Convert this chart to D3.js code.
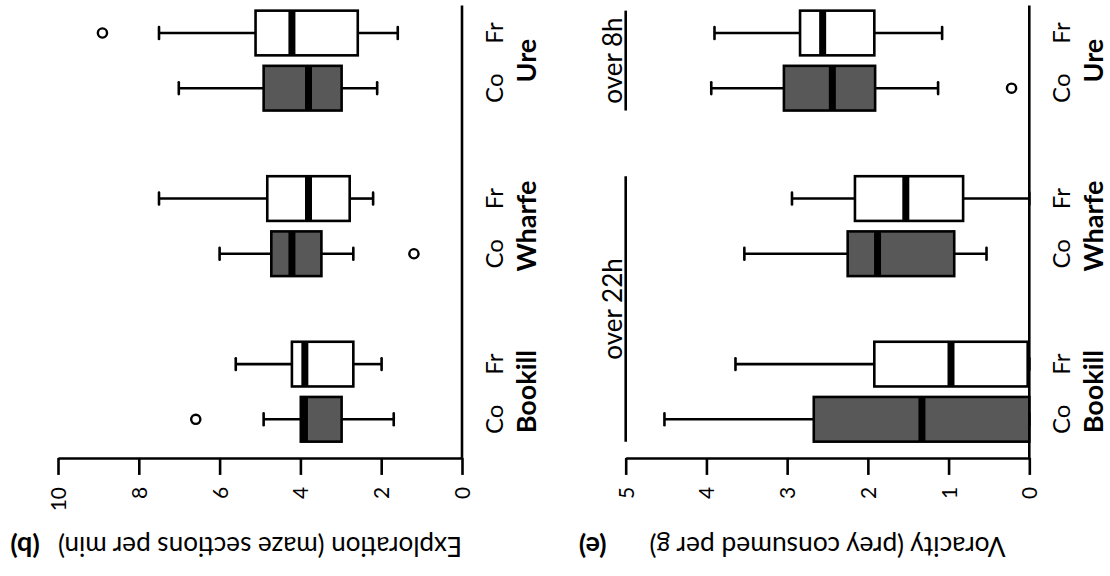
<!DOCTYPE html>
<html><head><meta charset="utf-8">
<script src="https://cdn.jsdelivr.net/npm/d3@7"></script>
<style>html,body{margin:0;padding:0;background:#fff}</style>
</head><body>
<script>
// ---------- data (five-number summaries: [lowWhisker, Q1, median, Q3, highWhisker]) ----------
const groups = ["Bookill", "Wharfe", "Ure"];
const treatments = ["Co", "Fr"];

const exploreCo = [[1.69, 2.98, 3.90, 3.99, 4.91], [2.69, 3.48, 4.21, 4.72, 6.00], [2.10, 2.98, 3.80, 4.91, 7.01]];
const exploreFr = [[1.99, 2.69, 3.89, 4.21, 5.60], [2.20, 2.78, 3.80, 4.82, 7.50], [1.59, 2.58, 4.21, 5.11, 7.50]];
const exploreOutCo = [[6.59], [1.19], []];
const exploreOutFr = [[], [], [8.90]];
const exploreTicks = [0, 2, 4, 6, 8, 10];

const voracityCo = [[0, 0, 1.33, 2.67, 4.52], [0.53, 0.93, 1.88, 2.25, 3.53], [1.13, 1.91, 2.44, 3.04, 3.94]];
const voracityFr = [[0, 0.02, 0.97, 1.92, 3.64], [0, 0.82, 1.53, 2.16, 2.94], [1.08, 1.92, 2.56, 2.84, 3.90]];
const voracityOutCo = [[], [], [0.22]];
const voracityOutFr = [[], [], []];
const voracityTicks = [0, 1, 2, 3, 4, 5];

const durationLabels = ["over 22h", "over 8h"];
const durationGroups = [[0, 1], [2, 2]]; // group index spans

// ---------- layout ----------
const W = 1110, H = 576;
const FONT = "Lato, 'Open Sans', sans-serif";
const svg = d3.select("body").append("svg").attr("width", W).attr("height", H)
  .style("background", "#fff");

// category positions (rotated plot: categories run bottom -> top)
const pos = (g, t) => g * 3 + t + 1;
const yPos = d3.scaleLinear().domain([1, 8]).range([419.3, 33]);
const half = 0.405;
const bandPx = Math.abs(yPos(1 + half) - yPos(1));
const capPx = bandPx * 0.53;

const panels = [
  { label: "(b)", title: "Exploration (maze sections per min)", co: exploreCo, fr: exploreFr,
    outCo: exploreOutCo, outFr: exploreOutFr, domain: [0, 10], range: [462, 58], ticks: exploreTicks,
    titleLen: 404, notes: false },
  { label: "(e)", title: "Voracity (prey consumed per g)", co: voracityCo, fr: voracityFr,
    outCo: voracityOutCo, outFr: voracityOutFr, domain: [0, 5], range: [1029.3, 625.7], ticks: voracityTicks,
    titleLen: 356, notes: true }
];

const grey = "#585858";
const LW = 2.6;

panels.forEach(p => {
  const x = d3.scaleLinear().domain(p.domain).range(p.range);
  const g = svg.append("g");
  const x0 = x(0);

  // baseline at value 0
  g.append("line").attr("x1", x0).attr("x2", x0)
    .attr("y1", yPos(8.5)).attr("y2", yPos(0.3))
    .attr("stroke", "#000").attr("stroke-width", LW);

  // value axis
  const axisY = yPos(0.3);
  const ax = g.append("g").attr("transform", `translate(0,${axisY})`)
    .call(d3.axisBottom(x).tickValues(p.ticks).tickSize(17).tickSizeOuter(0).tickFormat(d3.format("d")));
  ax.select(".domain").attr("stroke", "#000").attr("stroke-width", LW);
  ax.selectAll(".tick line").attr("stroke", "#000").attr("stroke-width", LW);
  ax.selectAll(".tick text")
    .attr("x", 0).attr("y", 0).attr("dy", "0.36em")
    .attr("transform", "translate(0,29) rotate(-90)")
    .attr("text-anchor", "end")
    .attr("font-family", FONT).attr("font-size", 21).attr("fill", "#000");

  // boxes
  const boxes = [];
  groups.forEach((gn, gi) => {
    boxes.push({ p: pos(gi, 0), s: p.co[gi], out: p.outCo[gi], fill: grey });
    boxes.push({ p: pos(gi, 1), s: p.fr[gi], out: p.outFr[gi], fill: "#fff" });
  });

  boxes.forEach(b => {
    const yc = yPos(b.p);
    const [lo, q1, md, q3, hi] = b.s;
    const bg = g.append("g");
    // whiskers
    bg.append("line").attr("x1", x(q3)).attr("x2", x(hi)).attr("y1", yc).attr("y2", yc)
      .attr("stroke", "#000").attr("stroke-width", LW);
    bg.append("line").attr("x1", x(q1)).attr("x2", x(lo)).attr("y1", yc).attr("y2", yc)
      .attr("stroke", "#000").attr("stroke-width", LW);
    [hi, lo].forEach(v => {
      bg.append("line").attr("x1", x(v)).attr("x2", x(v)).attr("y1", yc - capPx / 2).attr("y2", yc + capPx / 2)
        .attr("stroke", "#000").attr("stroke-width", LW).attr("stroke-linecap", "round");
    });
    // box
    bg.append("rect").attr("x", x(q3)).attr("width", x(q1) - x(q3))
      .attr("y", yc - bandPx).attr("height", 2 * bandPx)
      .attr("fill", b.fill).attr("stroke", "#000").attr("stroke-width", LW);
    // median
    bg.append("line").attr("x1", x(md)).attr("x2", x(md)).attr("y1", yc - bandPx).attr("y2", yc + bandPx)
      .attr("stroke", "#000").attr("stroke-width", 7);
    // outliers
    bg.selectAll("circle").data(b.out).enter().append("circle")
      .attr("cx", d => x(d)).attr("cy", yc).attr("r", 4.6)
      .attr("fill", "none").attr("stroke", "#000").attr("stroke-width", 2.4);
  });

  // treatment labels & group names
  groups.forEach((gn, gi) => {
    treatments.forEach((t, ti) => {
      g.append("text").attr("transform", `translate(${x0 + 41},${yPos(pos(gi, ti))}) rotate(-90)`)
        .attr("text-anchor", "middle").attr("font-family", FONT).attr("font-size", 24)
        .text(t);
    });
    g.append("text").attr("transform", `translate(${x0 + 74},${yPos(pos(gi, 0.5))}) rotate(-90)`)
      .attr("text-anchor", "middle").attr("font-family", FONT).attr("font-size", 27)
      .attr("font-weight", "bold").text(gn);
  });

  // axis title (upside-down) and panel letter
  const cx = (p.range[0] + p.range[1]) / 2;
  g.append("text").attr("transform", `translate(${cx},537) rotate(180)`)
    .attr("text-anchor", "middle").attr("font-family", FONT).attr("font-size", 27)
    .attr("textLength", p.titleLen).attr("lengthAdjust", "spacingAndGlyphs")
    .text(p.title);
  g.append("text").attr("transform", `translate(${p.range[1] - 33},537) rotate(180)`)
    .attr("text-anchor", "middle").attr("font-family", FONT).attr("font-size", 27)
    .attr("font-weight", "bold").text(p.label);

  // duration notes
  if (p.notes) {
    const xv = x(p.domain[1]);
    durationLabels.forEach((lab, i) => {
      const [g0, g1] = durationGroups[i];
      const pa = pos(g0, 0) - half, pb = pos(g1, 1) + half;
      g.append("line").attr("x1", xv).attr("x2", xv).attr("y1", yPos(pa)).attr("y2", yPos(pb))
        .attr("stroke", "#000").attr("stroke-width", LW);
      g.append("text").attr("transform", `translate(${xv - 4},${yPos((pa + pb) / 2)}) rotate(-90)`)
        .attr("text-anchor", "middle").attr("font-family", FONT).attr("font-size", 26)
        .text(lab);
    });
  }
});
</script>
</body></html>
